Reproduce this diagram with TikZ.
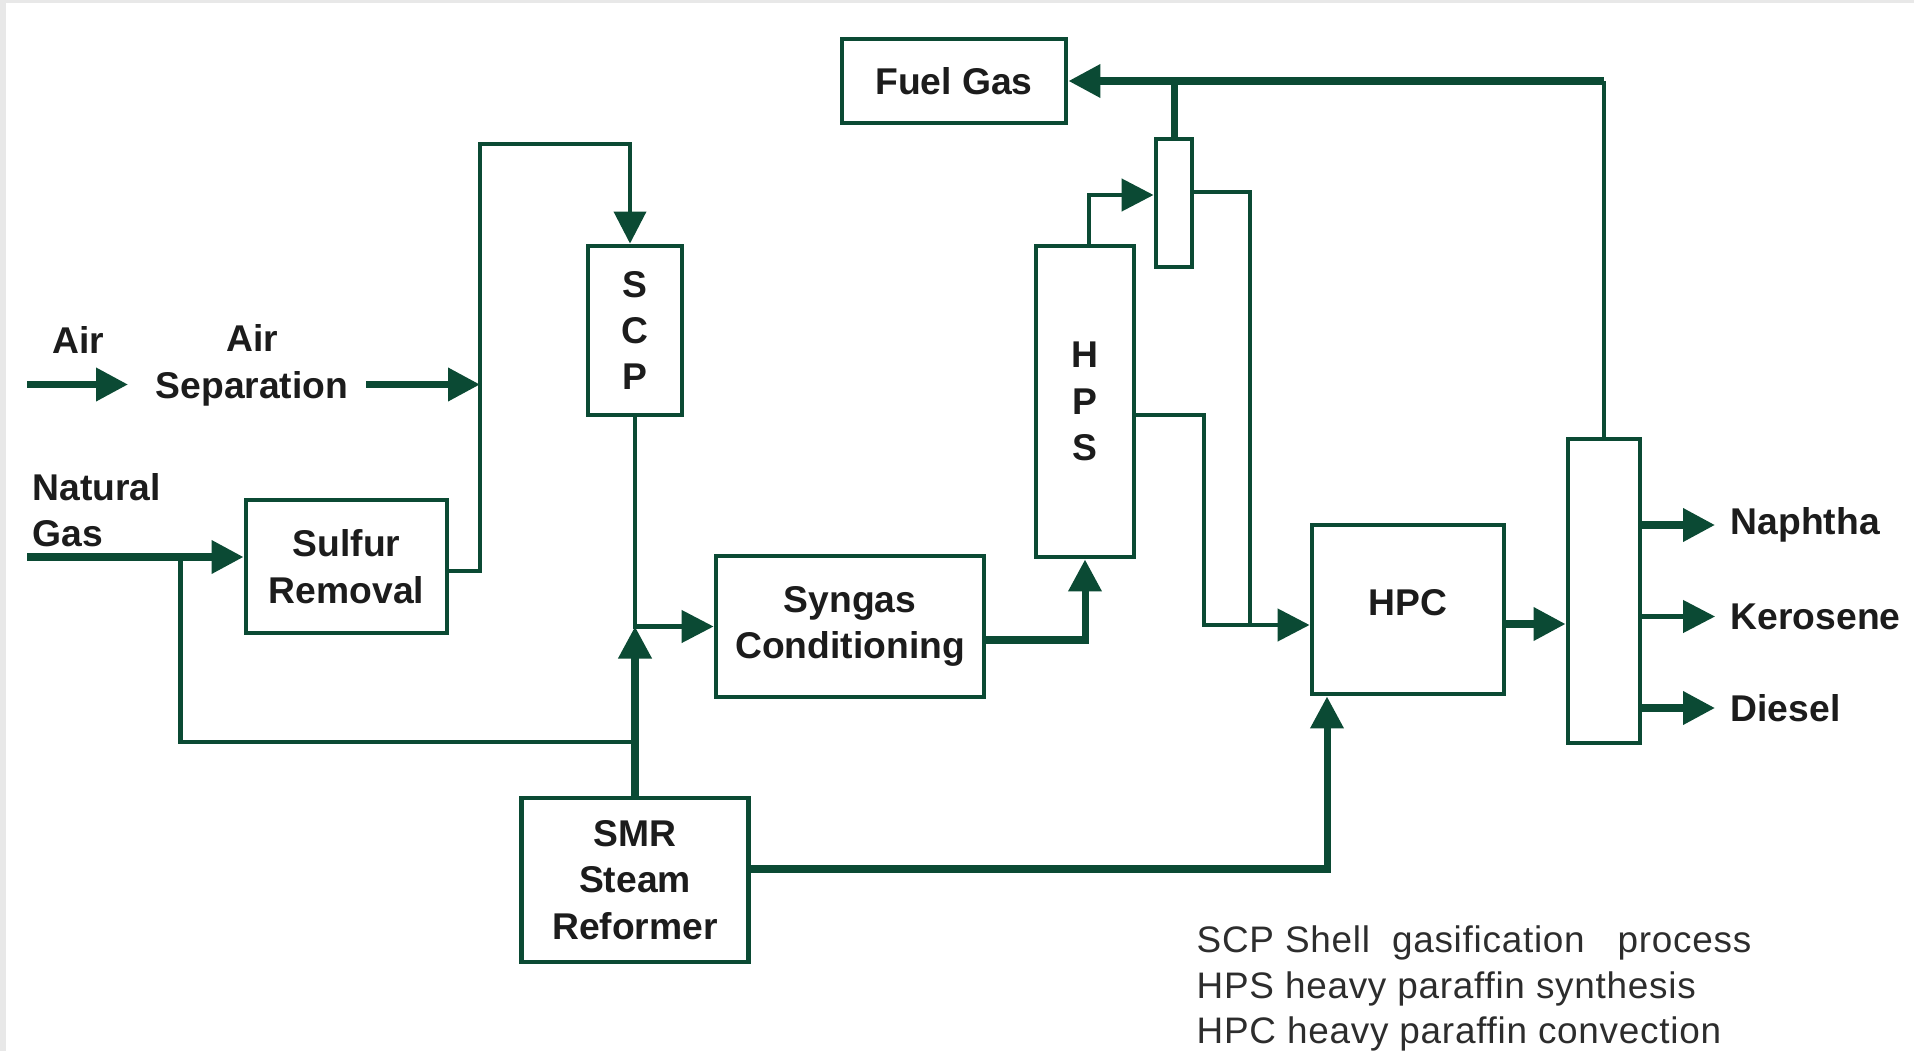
\documentclass[tikz,border=0pt]{standalone}
\usepackage{fontspec}
\setmainfont{Liberation Sans}
\newfontfamily\legendfont[LetterSpace=2]{Liberation Sans}
\usetikzlibrary{arrows.meta, positioning, calc}
\definecolor{pgreen}{RGB}{11,74,52}
\definecolor{ptext}{RGB}{28,28,28}
\definecolor{plegend}{RGB}{45,45,45}
\definecolor{pframe}{RGB}{232,232,232}

\begin{document}
\begin{tikzpicture}[
    box/.style={draw=pgreen, line width=1.4pt, fill=white, inner sep=0pt, align=center, font=\fontsize{10.6}{13.2}\selectfont\bfseries, text=ptext},
    tag/.style={inner sep=0pt, align=left, font=\fontsize{10.6}{13.2}\selectfont\bfseries, text=ptext},
    pipe/.style={pgreen, line width=1.1pt},
    feed/.style={pipe, -{Triangle[length=0.32cm, width=0.32cm]}},
    mainfeed/.style={feed, line width=2pt},
    mainpipe/.style={pipe, line width=2pt}
]

\fill[pframe] (0,0) rectangle (19.14,-10.51);
\fill[white] (0.06,-0.03) rectangle (19.14,-10.51);
\useasboundingbox (0,0) rectangle (19.14,-10.51);

%% Units
\node[box, minimum width=2.01cm, minimum height=1.33cm] (sulf) at (3.465,-5.665) {Sulfur\\Removal};
\node[box, minimum width=0.94cm, minimum height=1.69cm] (scp) at (6.35,-3.305) {S\\C\\P};
\node[box, minimum width=2.27cm, minimum height=1.64cm] (smr) at (6.35,-8.80) {SMR\\Steam\\Reformer};
\node[box, minimum width=2.68cm, minimum height=1.41cm] (syn) at (8.50,-6.265) {Syngas\\Conditioning};
\node[box, minimum width=0.98cm, minimum height=3.11cm] (hps) at (10.85,-4.015) {H\\P\\S};
\node[box, minimum width=0.36cm, minimum height=1.28cm] (drum) at (11.74,-2.03) {};
\node[box, minimum width=2.24cm, minimum height=0.84cm] (fuel) at (9.54,-0.81) {Fuel Gas};
\node[box, minimum width=1.92cm, minimum height=1.69cm, text depth=0.14cm] (hpc) at (14.08,-6.095) {HPC};
\node[box, minimum width=0.72cm, minimum height=3.04cm] (col) at (16.04,-5.91) {};

%% Feeds
\coordinate (air_in) at (0.27,-3.845);
\coordinate (air_end) at (1.28,-3.845);
\coordinate (asu_out) at (3.66,-3.845);
\coordinate (o2_bus) at (4.80,-3.845);
\coordinate (o2_top) at (4.80,-1.44);
\coordinate (ng_in) at (0.27,-5.57);
\coordinate (ng_split) at (1.807,-5.57);
\coordinate (ng_join) at (6.35,-7.42);
\node[tag] (air_lbl) at (0.78,-3.40) {Air};
\node[tag, align=center] (asu) at (2.52,-3.655) {Air\\Separation};
\node[tag, anchor=west] (ng_lbl) at (0.32,-5.10) {Natural\\Gas};

\draw[mainfeed] (air_in) -- (air_end);
\draw[mainfeed] (asu_out) -- (o2_bus);
\draw[mainfeed] (ng_in) -- (ng_in -| sulf.west);
\draw[feed] ([yshift=-0.045cm]sulf.east) -| (o2_top) -| ([xshift=-0.05cm]scp.north);
\draw[pipe, line width=1.3pt] (ng_split) |- (ng_join);

%% Syngas train
\draw[feed, line width=1.3pt] (scp.south) |- (syn.west);
\draw[mainfeed] (smr.north) -- (smr.north |- syn.west);
\draw[mainfeed] ([yshift=-0.135cm]syn.east) -| (hps.south);

%% Synthesis and upgrading
\coordinate (fuel_bus) at (fuel.east -| col.north);
\coordinate (hpc_in) at (12.04,-6.25);
\coordinate (drum_down) at (12.50,-6.25);
\coordinate (hpc_out) at ([yshift=-0.145cm]hpc.east);
\draw[feed, line width=1.3pt] ([xshift=0.04cm]hps.north) |- ([yshift=0.08cm]drum.west);
\draw[mainpipe] (drum.north) -- (drum.north |- fuel.east);
\draw[pipe] (col.north) -- (fuel_bus);
\draw[mainfeed] (fuel_bus) -- (fuel.east);
\draw[pipe] ([yshift=0.11cm]drum.east) -| (drum_down);
\draw[feed, line width=1.3pt] ([yshift=-0.135cm]hps.east) -| (hpc_in) -- (hpc_in -| hpc.west);
\draw[mainfeed] (hpc_out) -- (hpc_out -| col.west);
\draw[mainfeed] ([yshift=0.11cm]smr.east) -| ([xshift=-0.81cm]hpc.south);

%% Products
\foreach \prod/\y/\w in {Naphtha/-5.25/2pt, Kerosene/-6.165/1.3pt, Diesel/-7.08/2pt} {
    \coordinate (p_\prod) at (17.15,\y);
    \draw[mainfeed, line width=\w] (col.east |- p_\prod) -- (p_\prod);
    \node[tag, right=0.15cm of p_\prod] (\prod_lbl) {\prod};
}

%% Legend
\node[anchor=north west, inner sep=0pt, align=left, font=\legendfont\fontsize{10.5}{13}\selectfont, text=plegend] (legend) at (11.96,-9.25)
    {SCP Shell\ \ gasification\ \ \ process\\HPS heavy paraffin synthesis\\HPC heavy paraffin convection};

\end{tikzpicture}
\end{document}
